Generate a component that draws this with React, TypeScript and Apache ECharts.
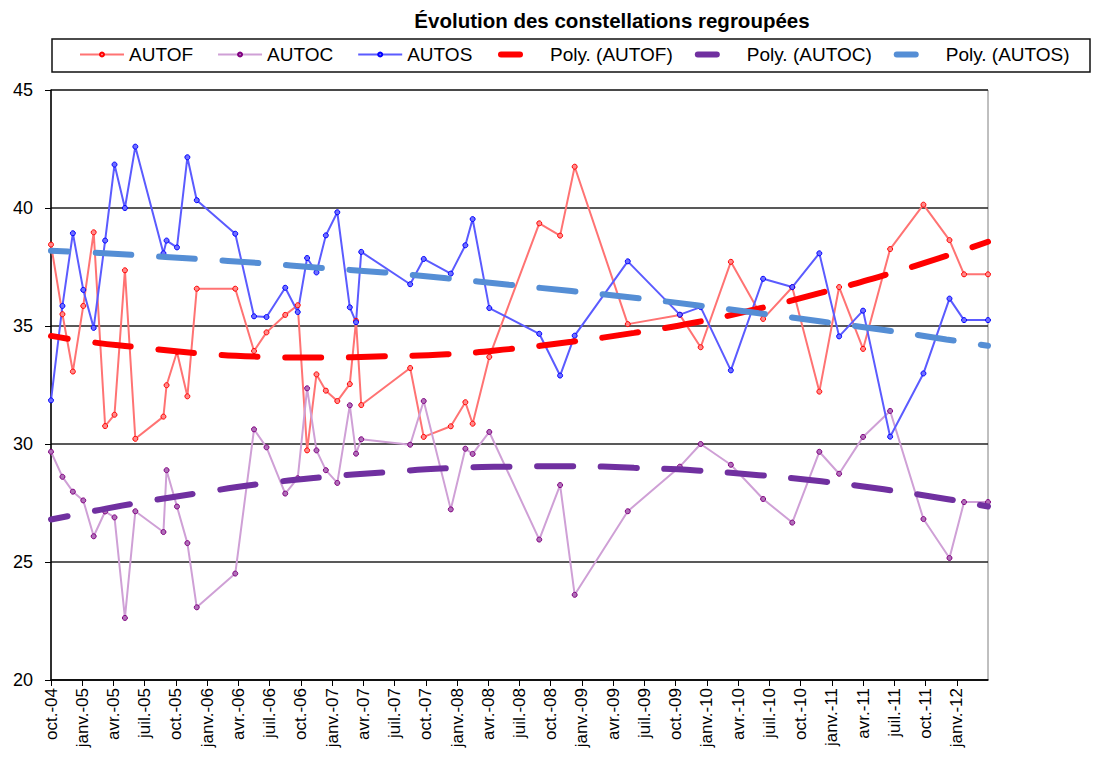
import { useEffect, useRef } from 'react';
import * as echarts from 'echarts';

// x tick labels (one every 3 months, starting oct. 2004)
const tickLabels = [
  'oct.-04', 'janv.-05', 'avr.-05', 'juil.-05', 'oct.-05', 'janv.-06', 'avr.-06', 'juil.-06',
  'oct.-06', 'janv.-07', 'avr.-07', 'juil.-07', 'oct.-07', 'janv.-08', 'avr.-08', 'juil.-08',
  'oct.-08', 'janv.-09', 'avr.-09', 'juil.-09', 'oct.-09', 'janv.-10', 'avr.-10', 'juil.-10',
  'oct.-10', 'janv.-11', 'avr.-11', 'juil.-11', 'oct.-11', 'janv.-12',
];

// observation dates, in months since oct. 2004
const months = [
  0, 1.1, 2.1, 3.1, 4.1, 5.2, 6.1, 7.1, 8.1, 10.8, 11.1, 12.1, 13.1, 14.0, 17.7, 19.5, 20.7,
  22.5, 23.7, 24.6, 25.5, 26.4, 27.5, 28.7, 29.3, 29.8, 34.5, 35.8, 38.4, 39.8, 40.5, 42.1,
  46.9, 48.9, 50.3, 55.4, 60.4, 62.4, 65.3, 68.4, 71.2, 73.8, 75.7, 78.0, 80.6, 83.8, 86.3,
  87.7, 90,
];

const autof = [
  38.45, 35.5, 33.07, 35.85, 38.97, 30.76, 31.24, 37.36, 30.22, 31.16, 32.49, 33.9, 32.02,
  36.58, 36.58, 33.94, 34.73, 35.47, 35.88, 29.73, 32.95, 32.26, 31.82, 32.54, 35.22, 31.65,
  33.22, 30.3, 30.75, 31.77, 30.86, 33.69, 39.35, 38.83, 41.75, 35.08, 35.47, 34.1, 37.72,
  35.3, 36.64, 32.22, 36.65, 34.03, 38.26, 40.14, 38.64, 37.19, 37.19,
];

const autoc = [
  29.67, 28.61, 27.98, 27.61, 26.09, 27.14, 26.89, 22.63, 27.15, 26.27, 28.89, 27.35, 25.8,
  23.08, 24.51, 30.62, 29.86, 27.9, 28.55, 32.36, 29.73, 28.89, 28.35, 31.64, 29.59, 30.2,
  29.97, 31.82, 27.23, 29.8, 29.58, 30.51, 25.95, 28.26, 23.61, 27.15, 29.04, 30.0, 29.12,
  27.67, 26.67, 29.67, 28.74, 30.3, 31.4, 26.82, 25.17, 27.54, 27.54,
];

const autos = [
  31.85, 35.85, 38.93, 36.53, 34.92, 38.62, 41.84, 40.0, 42.6, 38.08, 38.62, 38.33, 42.15,
  40.33, 38.91, 35.41, 35.38, 36.62, 35.59, 37.88, 37.27, 38.84, 39.82, 35.79, 35.16, 38.14,
  36.77, 37.84, 37.22, 38.42, 39.53, 35.76, 34.67, 32.9, 34.59, 37.74, 35.48, 35.8, 33.12,
  37.0, 36.65, 38.08, 34.56, 35.65, 30.31, 32.99, 36.16, 35.25, 35.25,
];

// polynomial trend curves
const trendMonths = [0, 4, 8, 14, 20, 26, 32, 38, 44, 50, 56, 62, 68, 74, 80, 86, 90];
const polyAutof = [
  34.58, 34.31, 34.12, 33.85, 33.7, 33.66, 33.72, 33.8, 34.02, 34.33, 34.71, 35.16, 35.74,
  36.41, 37.15, 37.97, 38.57,
];
const polyAutoc = [
  26.8, 27.15, 27.48, 27.91, 28.3, 28.59, 28.8, 28.97, 29.04, 29.06, 28.99, 28.88, 28.68,
  28.42, 28.08, 27.67, 27.35,
];
const polyAutos = [
  38.19, 38.11, 38.01, 37.84, 37.67, 37.46, 37.27, 37.02, 36.75, 36.48, 36.2, 35.88, 35.54,
  35.19, 34.83, 34.43, 34.16,
];

const FONT = '"Liberation Sans", Arial, sans-serif';
const PILL = 'path://M3,0 H22 A3,3 0 0 1 22,6 H3 A3,3 0 0 1 3,0 Z';

function dataSeries(name: string, values: number[], line: string, marker: string, fill: string) {
  return {
    name,
    type: 'line',
    data: months.map((m, i) => [m, values[i]]),
    symbol: 'circle',
    symbolSize: 5,
    showAllSymbol: true,
    lineStyle: { color: line, width: 2 },
    itemStyle: { color: fill, borderColor: marker, borderWidth: 1 },
    emphasis: { disabled: true },
    z: 2,
  };
}

function trendSeries(name: string, values: number[], color: string) {
  return {
    name,
    type: 'line',
    data: trendMonths.map((m, i) => [m, values[i]]),
    smooth: true,
    showSymbol: false,
    symbol: 'none',
    color,
    lineStyle: { color, width: 6, type: [36, 27.6], dashOffset: 19.3, cap: 'round' },
    itemStyle: { color },
    emphasis: { disabled: true },
    z: 3,
  };
}

export default function App() {
  const ref = useRef<HTMLDivElement>(null);
  useEffect(() => {
    if (!ref.current) return;
    const chart = echarts.init(ref.current, undefined, { renderer: 'svg' });
    chart.setOption({
      animation: false,
      backgroundColor: '#fff',
      title: {
        text: 'Évolution des constellations regroupées',
        left: 607,
        top: 5,
        textAlign: 'center',
        textStyle: { fontFamily: FONT, fontSize: 20.5, fontWeight: 'bold', color: '#000' },
      },
      legend: [
        {
          data: ['AUTOF', 'AUTOC', 'AUTOS'],
          left: 79,
          top: 45,
          padding: 0,
          itemWidth: 44,
          itemHeight: 5,
          itemGap: 24,
          selectedMode: false,
          textStyle: { fontFamily: FONT, fontSize: 19, color: '#000' },
        },
        {
          data: [
            { name: 'Poly. (AUTOF)', icon: PILL },
            { name: 'Poly. (AUTOC)', icon: PILL },
            { name: 'Poly. (AUTOS)', icon: PILL },
          ],
          left: 498,
          top: 45,
          padding: 0,
          itemWidth: 25,
          itemHeight: 6,
          itemGap: 22,
          selectedMode: false,
          textStyle: { fontFamily: FONT, fontSize: 19, color: '#000', padding: [0, 0, 0, 22] },
        },
      ],
      graphic: [
        {
          type: 'rect',
          shape: { x: 52, y: 39, width: 1038, height: 33 },
          style: { fill: 'none', stroke: '#111', lineWidth: 1.5 },
          z: -1,
        },
      ],
      grid: {
        left: 51,
        right: 105,
        top: 90,
        bottom: 90,
        show: true,
        borderColor: '#808080',
        borderWidth: 1,
        backgroundColor: '#fff',
      },
      xAxis: {
        type: 'value',
        min: 0,
        max: 90,
        interval: 3,
        axisLine: { lineStyle: { color: '#000', width: 1.5 } },
        axisTick: { length: 6, lineStyle: { color: '#000' } },
        splitLine: { show: false },
        axisLabel: {
          rotate: 90,
          margin: 8,
          fontFamily: FONT,
          fontSize: 17,
          color: '#000',
          showMaxLabel: false,
          formatter: (v: number) => tickLabels[Math.round(v / 3)] ?? '',
        },
      },
      yAxis: {
        type: 'value',
        min: 20,
        max: 45,
        interval: 5,
        axisLine: { show: true, lineStyle: { color: '#000', width: 1.5 } },
        axisTick: { show: true, length: 6, lineStyle: { color: '#000' } },
        splitLine: { lineStyle: { color: '#222', width: 1.5 } },
        axisLabel: { margin: 18, fontFamily: FONT, fontSize: 18, color: '#000' },
      },
      series: [
        dataSeries('AUTOF', autof, '#FF7373', '#FF0000', '#FF8A8A'),
        dataSeries('AUTOC', autoc, '#CFA0D6', '#800080', '#B070B8'),
        dataSeries('AUTOS', autos, '#5B5BFF', '#0000FF', '#6F6FFF'),
        trendSeries('Poly. (AUTOF)', polyAutof, '#FF0000'),
        trendSeries('Poly. (AUTOC)', polyAutoc, '#7030A0'),
        trendSeries('Poly. (AUTOS)', polyAutos, '#558ED5'),
      ],
    });
    return () => chart.dispose();
  }, []);
  return (
    <div
      ref={ref}
      style={{ position: 'fixed', left: 0, top: 0, width: 1093, height: 770, background: '#fff' }}
    />
  );
}
